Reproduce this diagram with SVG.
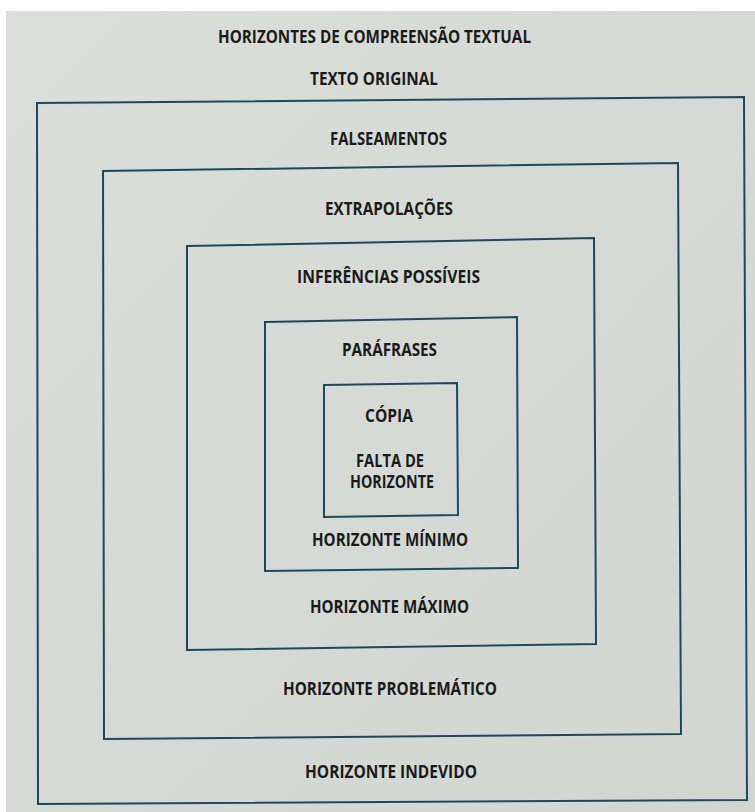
<svg xmlns="http://www.w3.org/2000/svg" width="755" height="812" viewBox="0 0 755 812">
  <defs>
    <linearGradient id="paper" x1="0" y1="0" x2="1" y2="1">
      <stop offset="0" stop-color="#dcdedb"/>
      <stop offset="0.5" stop-color="#d6d9d6"/>
      <stop offset="1" stop-color="#d2d5d2"/>
    </linearGradient>
  </defs>
  <style>
    .box { fill: none; stroke: #2a4550; stroke-width: 2; stroke-linejoin: miter; }
    .halo { fill: none; stroke: #bfe3ea; stroke-width: 4; opacity: 0.6; }
    .lbl { font-family: "Open Sans", "Liberation Sans", sans-serif; font-weight: 700; font-size: 17px; fill: #1a1a1a; }
  </style>
  <rect x="0" y="0" width="755" height="812" fill="#ffffff"/>
  <rect x="6" y="11" width="749" height="801" fill="url(#paper)"/>

  <g id="heading">
    <text class="lbl" x="218" y="43" textLength="313" lengthAdjust="spacingAndGlyphs">HORIZONTES DE COMPREENSÃO TEXTUAL</text>
    <text class="lbl" x="310" y="85" textLength="128" lengthAdjust="spacingAndGlyphs">TEXTO ORIGINAL</text>
  </g>

  <g id="box-falseamentos">
    <polygon class="halo" points="37,103 744,97 747,800 38,804"/>
    <polygon class="box" points="37,103 744,97 747,800 38,804"/>
    <text class="lbl" x="330" y="145" textLength="117" lengthAdjust="spacingAndGlyphs">FALSEAMENTOS</text>
    <text class="lbl" x="305" y="778" textLength="172" lengthAdjust="spacingAndGlyphs">HORIZONTE INDEVIDO</text>
  </g>

  <g id="box-extrapolacoes">
    <polygon class="halo" points="103,171 678,163 681,734 104,739"/>
    <polygon class="box" points="103,171 678,163 681,734 104,739"/>
    <text class="lbl" x="325" y="215" textLength="128" lengthAdjust="spacingAndGlyphs">EXTRAPOLAÇÕES</text>
    <text class="lbl" x="283" y="695" textLength="214" lengthAdjust="spacingAndGlyphs">HORIZONTE PROBLEMÁTICO</text>
  </g>

  <g id="box-inferencias">
    <polygon class="halo" points="187,246 594,238 596,644 187,650"/>
    <polygon class="box" points="187,246 594,238 596,644 187,650"/>
    <text class="lbl" x="297" y="283" textLength="183" lengthAdjust="spacingAndGlyphs">INFERÊNCIAS POSSÍVEIS</text>
    <text class="lbl" x="310" y="613" textLength="159" lengthAdjust="spacingAndGlyphs">HORIZONTE MÁXIMO</text>
  </g>

  <g id="box-parafrases">
    <polygon class="halo" points="265,322 517,317 518,568 265,571"/>
    <polygon class="box" points="265,322 517,317 518,568 265,571"/>
    <text class="lbl" x="342" y="356" textLength="95" lengthAdjust="spacingAndGlyphs">PARÁFRASES</text>
    <text class="lbl" x="312" y="546" textLength="156" lengthAdjust="spacingAndGlyphs">HORIZONTE MÍNIMO</text>
  </g>

  <g id="box-copia">
    <polygon class="halo" points="324,385 457,383 458,515 324,517"/>
    <polygon class="box" points="324,385 457,383 458,515 324,517"/>
    <text class="lbl" x="365" y="422" textLength="48" lengthAdjust="spacingAndGlyphs">CÓPIA</text>
    <text class="lbl" x="356" y="467" textLength="68" lengthAdjust="spacingAndGlyphs">FALTA DE</text>
    <text class="lbl" x="350" y="488" textLength="84" lengthAdjust="spacingAndGlyphs">HORIZONTE</text>
  </g>

  <g id="connectors"/>
</svg>
